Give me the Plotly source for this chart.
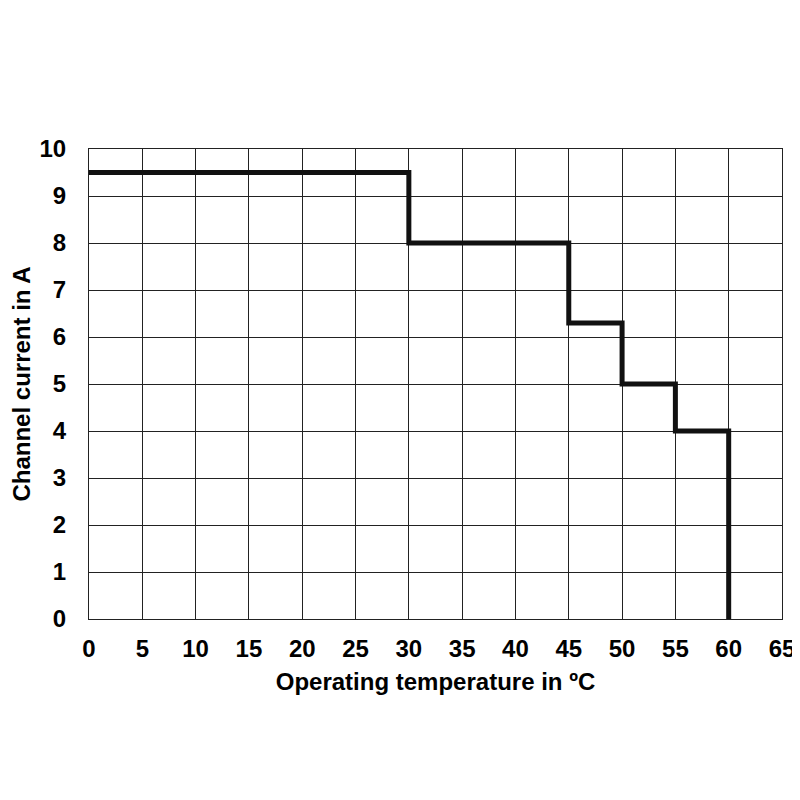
import plotly.graph_objects as go

# Derating curve: channel current vs operating temperature
temps = [0, 30, 45, 50, 55, 60, 60]
currents = [9.5, 8, 6.3, 5, 4, 0, 0]

x_ticks = list(range(0, 70, 5))
y_ticks = list(range(0, 11, 1))

font_bold = dict(family="Liberation Sans, Arial, sans-serif", size=24, color="black")

fig = go.Figure()
fig.add_trace(go.Scatter(
    x=temps, y=currents,
    mode="lines",
    line=dict(color="#111111", width=5, shape="hv"),
    showlegend=False,
))

# page body has an 8px margin, so offsets are compensated here
fig.update_layout(
    width=800, height=800,
    paper_bgcolor="white", plot_bgcolor="white",
    margin=dict(l=81, r=26, t=141, b=189),
    font=font_bold,
    xaxis=dict(
        range=[0, 65], tickvals=x_ticks, ticktext=[f"<b>{v}</b>" for v in x_ticks],
        showgrid=True, gridcolor="#222222", gridwidth=1,
        showline=True, linecolor="#222222", linewidth=1, mirror=True,
        zeroline=False, ticks="", ticklabelstandoff=8, automargin=False,
        title=dict(text="<b>Operating temperature in ºC</b>", standoff=12, font=font_bold),
    ),
    yaxis=dict(
        range=[0, 10], tickvals=y_ticks, ticktext=[f"<b>{v}</b>" for v in y_ticks],
        showgrid=True, gridcolor="#222222", gridwidth=1,
        showline=True, linecolor="#222222", linewidth=1, mirror=True,
        zeroline=False, ticks="", ticklabelstandoff=17, automargin=False,
        title=dict(text="<b>Channel current in A</b>", standoff=4, font=font_bold),
    ),
)

fig.write_html("out.html")
